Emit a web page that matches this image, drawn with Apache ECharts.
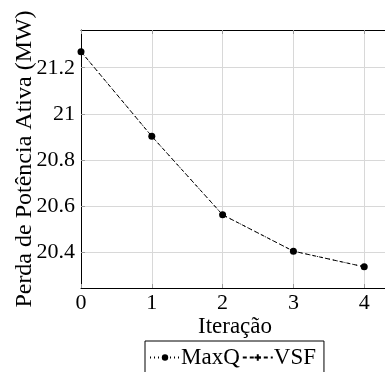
<!DOCTYPE html>
<html><head><meta charset="utf-8">
<script src="https://cdn.jsdelivr.net/npm/echarts@6/dist/echarts.min.js"></script>
<style>html,body{margin:0;padding:0;background:#fff}#c{width:385px;height:372px}</style>
</head><body><div id="c"></div>
<script>
const iterations = [0, 1, 2, 3, 4];
const maxqValues = [21.27, 20.902, 20.561, 20.403, 20.335];
const vsfValues = [21.27, 20.902, 20.561, 20.403, 20.335];
const xTicks = [0, 1, 2, 3, 4];
const yTicks = [20.4, 20.6, 20.8, 21, 21.2];
const seriesNames = ['MaxQ', 'VSF'];
const xTitle = 'Iteração';
const yTitle = 'Perda de Potência Ativa (MW)';

const FONT = 'Liberation Serif';
const chart = echarts.init(document.getElementById('c'), null, {renderer: 'canvas'});
const plus = 'path://M-1,0L1,0M0,-1L0,1';
chart.setOption({
  animation: false,
  backgroundColor: '#fff',
  textStyle: {fontFamily: FONT},
  grid: {left: 81, top: 30, width: 308, height: 258, containLabel: false, outerBoundsMode: 'none'},
  legend: {
    left: 145, top: 341,
    padding: [5, 8, 6, 4],
    borderColor: '#000', borderWidth: 1, borderRadius: 0,
    itemWidth: 30, itemHeight: 8, itemGap: 2,
    textStyle: {fontFamily: FONT, fontSize: 23, color: '#000', padding: [0, 0, 0, -4]},
    data: seriesNames
  },
  xAxis: [{
    type: 'value', min: 0, max: 4.35, position: 'bottom',
    name: xTitle, nameLocation: 'middle', nameGap: 27, nameMoveOverlap: false,
    nameTextStyle: {fontFamily: FONT, fontSize: 23, color: '#000'},
    axisLine: {show: true, onZero: false, lineStyle: {color: '#000', width: 1}},
    axisTick: {show: true, inside: true, length: 4, customValues: xTicks, lineStyle: {color: '#999'}},
    axisLabel: {customValues: xTicks, fontFamily: FONT, fontSize: 22, color: '#000', margin: 4},
    splitLine: {show: true, lineStyle: {color: '#d8d8d8', width: 1}}
  }, {
    type: 'value', min: 0, max: 4.35, position: 'top',
    axisLine: {show: true, onZero: false, lineStyle: {color: '#000', width: 1}},
    axisTick: {show: true, inside: true, length: 4, customValues: xTicks, lineStyle: {color: '#999'}},
    axisLabel: {show: false},
    splitLine: {show: false}
  }],
  yAxis: {
    type: 'value', min: 20.243, max: 21.364,
    name: yTitle, nameLocation: 'middle', nameGap: 44, nameMoveOverlap: false,
    nameTextStyle: {fontFamily: FONT, fontSize: 24, color: '#000'},
    axisLine: {show: true, onZero: false, lineStyle: {color: '#000', width: 1}},
    axisTick: {show: true, inside: true, length: 4, customValues: yTicks, lineStyle: {color: '#999'}},
    axisLabel: {customValues: yTicks, fontFamily: FONT, fontSize: 22, color: '#000', margin: 6},
    splitLine: {show: true, lineStyle: {color: '#d8d8d8', width: 1}}
  },
  series: [{
    name: seriesNames[0], type: 'line',
    data: iterations.map((x, i) => [x, maxqValues[i]]),
    symbol: 'circle', symbolSize: 7,
    itemStyle: {color: '#000'},
    lineStyle: {color: '#000', width: 1, type: [1, 3]}
  }, {
    name: seriesNames[1], type: 'line',
    data: iterations.map((x, i) => [x, vsfValues[i]]),
    symbol: plus, symbolSize: 4,
    itemStyle: {color: '#000', borderColor: '#000', borderWidth: 1},
    lineStyle: {color: '#000', width: 1, type: [4, 3]}
  }]
});
</script></body></html>
